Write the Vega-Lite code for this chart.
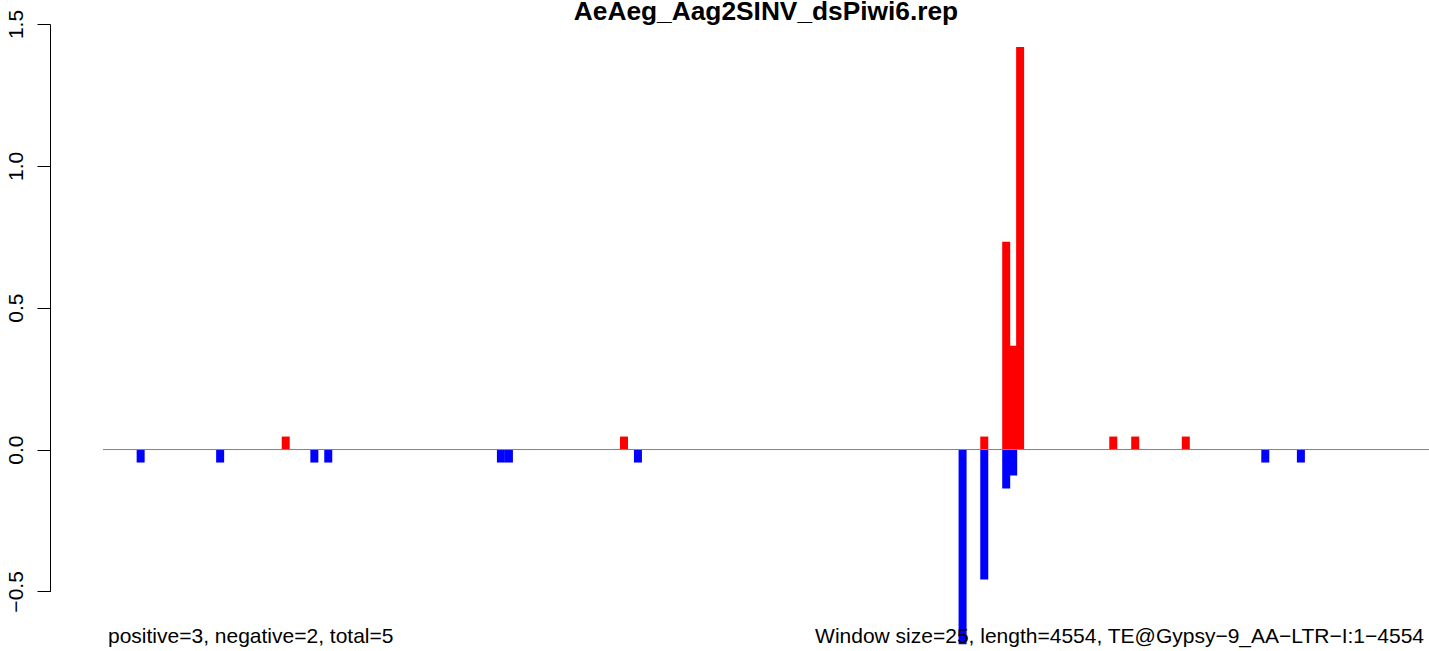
{
  "$schema": "https://vega.github.io/schema/vega-lite/v6.json",
  "width": 1326,
  "height": 567.4,
  "autosize": {"type": "none"},
  "padding": {"left": 103, "top": 24, "right": 0, "bottom": 59.6},
  "background": "white",
  "title": {
    "text": "AeAeg_Aag2SINV_dsPiwi6.rep",
    "font": "Liberation Sans",
    "fontSize": 26.3,
    "fontWeight": "bold",
    "color": "black",
    "anchor": "middle",
    "frame": "group",
    "baseline": "alphabetic",
    "offset": -37
  },
  "config": {
    "view": {"stroke": null},
    "font": "Liberation Sans"
  },
  "datasets": {
    "bars": [
      {"pos": 122, "value": -0.0458, "strand": "minus"},
      {"pos": 419, "value": -0.0458, "strand": "minus"},
      {"pos": 664, "value": 0.0458, "strand": "plus"},
      {"pos": 771, "value": -0.0458, "strand": "minus"},
      {"pos": 823, "value": -0.0458, "strand": "minus"},
      {"pos": 1468, "value": -0.0458, "strand": "minus"},
      {"pos": 1498, "value": -0.0458, "strand": "minus"},
      {"pos": 1928, "value": 0.0458, "strand": "plus"},
      {"pos": 1980, "value": -0.0458, "strand": "minus"},
      {"pos": 3193, "value": -0.6866, "strand": "minus"},
      {"pos": 3274, "value": 0.0458, "strand": "plus"},
      {"pos": 3274, "value": -0.4577, "strand": "minus"},
      {"pos": 3356, "value": 0.7323, "strand": "plus"},
      {"pos": 3356, "value": -0.1373, "strand": "minus"},
      {"pos": 3382, "value": 0.3662, "strand": "plus"},
      {"pos": 3382, "value": -0.0915, "strand": "minus"},
      {"pos": 3408, "value": 1.4189, "strand": "plus"},
      {"pos": 3756, "value": 0.0458, "strand": "plus"},
      {"pos": 3838, "value": 0.0458, "strand": "plus"},
      {"pos": 4027, "value": 0.0458, "strand": "plus"},
      {"pos": 4324, "value": -0.0458, "strand": "minus"},
      {"pos": 4457, "value": -0.0458, "strand": "minus"}
    ],
    "notes": [
      {"side": "left", "label": "positive=3, negative=2, total=5"},
      {"side": "right", "label": "Window size=25, length=4554, TE@Gypsy−9_AA−LTR−I:1−4554"}
    ]
  },
  "data": {"name": "bars"},
  "layer": [
    {
      "mark": {"type": "bar", "size": 8},
      "encoding": {
        "x": {"field": "pos", "type": "quantitative", "scale": {"domain": [0, 4917], "nice": false, "zero": false}, "axis": null},
        "y": {
          "field": "value", "type": "quantitative",
          "scale": {"domain": [-0.5, 1.5], "nice": false, "zero": false},
          "axis": {
            "title": null,
            "values": [-0.5, 0, 0.5, 1, 1.5],
            "format": ".1f",
            "grid": false,
            "offset": 53,
            "tickSize": 13,
            "tickColor": "black",
            "domainColor": "black",
            "labelAngle": -90,
            "labelAlign": "center",
            "labelBaseline": "alphabetic",
            "labelPadding": 15,
            "labelFont": "Liberation Sans",
            "labelFontSize": 21,
            "labelColor": "black",
            "labelOverlap": false,
            "labelFlush": false
          }
        },
        "color": {"field": "strand", "type": "nominal", "scale": {"domain": ["plus", "minus"], "range": ["#FF0000", "#0000FF"]}, "legend": null}
      }
    },
    {
      "data": {"values": [{"level": 0}]},
      "mark": {"type": "rule", "color": "#808080", "strokeWidth": 1},
      "encoding": {"y": {"field": "level", "type": "quantitative"}}
    },
    {
      "data": {"name": "notes"},
      "transform": [{"filter": "datum.side === 'left'"}],
      "mark": {"type": "text", "align": "left", "baseline": "alphabetic", "fontSize": 21, "font": "Liberation Sans", "color": "black"},
      "encoding": {
        "x": {"datum": 0},
        "y": {"datum": -0.682},
        "text": {"field": "label"}
      }
    },
    {
      "data": {"name": "notes"},
      "transform": [{"filter": "datum.side === 'right'"}],
      "mark": {"type": "text", "align": "right", "baseline": "alphabetic", "fontSize": 21, "font": "Liberation Sans", "color": "black"},
      "encoding": {
        "x": {"datum": 4917},
        "y": {"datum": -0.682},
        "text": {"field": "label"}
      }
    }
  ]
}
